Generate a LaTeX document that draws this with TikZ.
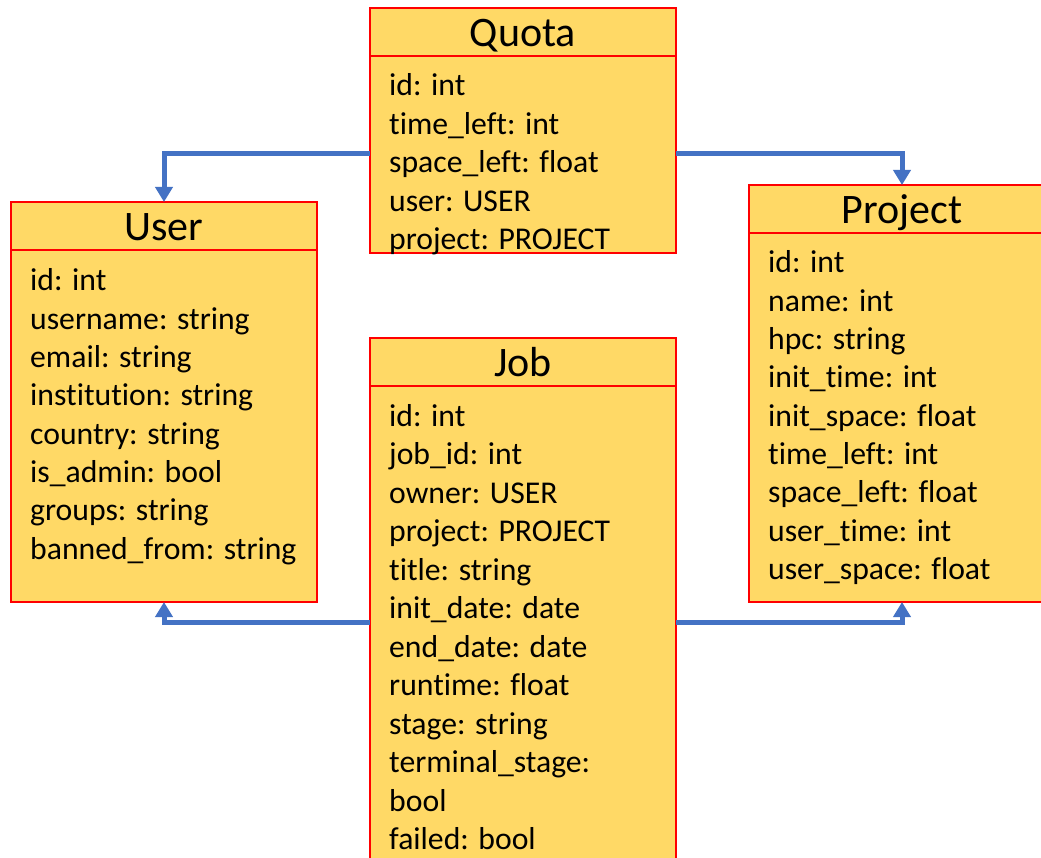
\documentclass[tikz,border=0pt]{standalone}
\usepackage{fontspec}
\setmainfont{Carlito}[Ligatures=NoCommon]
\usetikzlibrary{arrows.meta}
\definecolor{boxfill}{HTML}{FFD966}
\definecolor{linkblue}{HTML}{4472C4}
\tikzset{
  entity/.style={draw=red, fill=boxfill, line width=2pt, minimum width=306pt, anchor=north west, outer sep=0pt, inner sep=0pt},
  title/.style={anchor=base, inner sep=0pt, font=\fontsize{42pt}{48pt}\selectfont},
  field/.style={anchor=base west, inner sep=0pt, font=\fontsize{31.7pt}{38pt}\selectfont},
  link/.style={draw=linkblue, line width=5pt, -{Triangle[width=17pt,length=15pt]}}
}
\begin{document}
\begin{tikzpicture}[x=1pt,y=-1pt]
  \clip (0,0) rectangle (1041,858);
  \fill[white] (0,0) rectangle (1041,858);
  % boxes
  \node[entity, minimum height=245pt] (quota) at (370,8) {};
  \node[entity, minimum height=400pt] (user) at (11,202) {};
  \node[entity, minimum height=417pt] (project) at (749,185) {};
  \node[entity, minimum height=540pt] (job) at (370,338) {};
  \foreach \b in {quota,user,project,job}
    \draw[red, line width=2pt] ([yshift=-48pt]\b.north west) -- ([yshift=-48pt]\b.north east);
  % links
  \draw[link] ([yshift=-146pt]quota.north west) -| (user.north);
  \draw[link] ([yshift=-146pt]quota.north east) -| (project.north);
  \draw[link] ([yshift=-284pt]job.north west) -| (user.south);
  \draw[link] ([yshift=-284pt]job.north east) -| (project.south);
  % titles
  \node[title] (quota-t) at (523,47) {Quota};
  \node[title] (user-t) at (164,241) {User};
  \node[title] (project-t) at (902,224) {Project};
  \node[title] (job-t) at (523,377) {Job};
  % fields
  \foreach \f [count=\i from 0] in {id: int, time\_left: int, space\_left: float, user: USER, project: PROJECT}
    \node[field] (q\i) at (389,96+38.5*\i) {\f};
  \foreach \f [count=\i from 0] in {id: int, username: string, email: string, institution: string, country: string, is\_admin: bool, groups: string, banned\_from: string}
    \node[field] (u\i) at (30,291+38.3*\i) {\f};
  \foreach \f [count=\i from 0] in {id: int, name: int, hpc: string, init\_time: int, init\_space: float, time\_left: int, space\_left: float, user\_time: int, user\_space: float}
    \node[field] (p\i) at (768,273+38.3*\i) {\f};
  \foreach \f [count=\i from 0] in {id: int, job\_id: int, owner: USER, project: PROJECT, title: string, init\_date: date, end\_date: date, runtime: float, stage: string, terminal\_stage:, bool, failed: bool}
    \node[field] (j\i) at (389,426+38.5*\i) {\f};
\end{tikzpicture}
\end{document}
